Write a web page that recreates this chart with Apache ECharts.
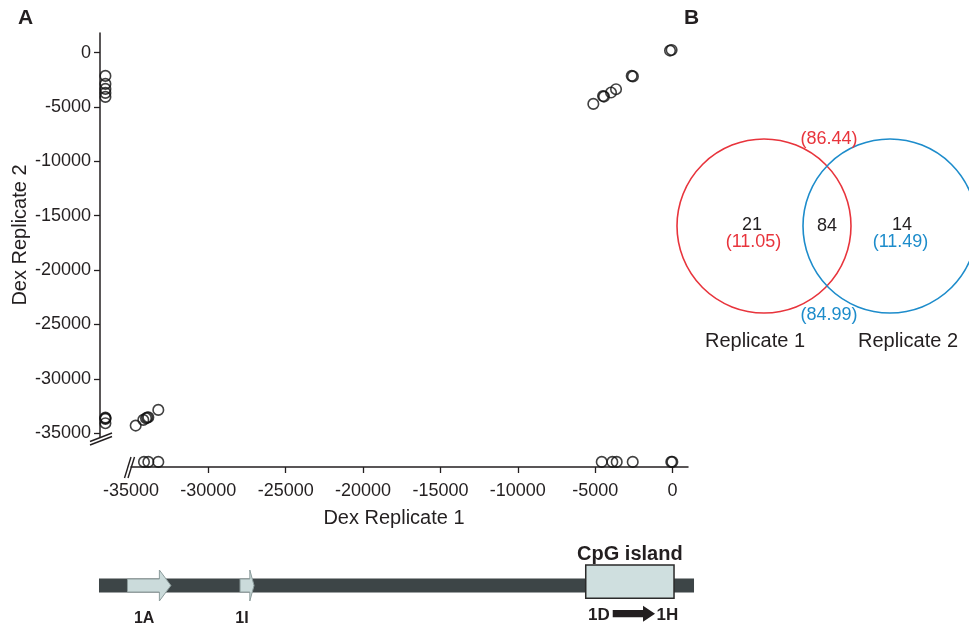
<!DOCTYPE html>
<html><head><meta charset="utf-8">
<script src="https://cdn.jsdelivr.net/npm/echarts@6/dist/echarts.min.js"></script>
<style>html,body{margin:0;padding:0;background:#fff}#c{width:969px;height:626px}</style>
</head><body><div id="c"></div>
<script>
// ---------- Panel A: scatter (Dex Replicate 1 vs Dex Replicate 2) ----------
// Sites detected in both replicates
const bothRep1 = [-162, -60, -2637, -2560, -3651, -3974, -4427, -4490, -5118,
                  -34693, -34202, -34027, -33876, -33950, -33232];
const bothRep2 = [184, 240, -2142, -2190, -3365, -3677, -4045, -4000, -4716,
                  -34292, -33769, -33612, -33521, -33560, -32850];
// Sites not detected in Replicate 1 (drawn in the column left of the x-axis break)
const rep1NotDetected = -36650;
const onlyRep2Values = [-2142, -2878, -3337, -3705, -4073, -33557, -33677, -34072, -33620];
// Sites not detected in Replicate 2 (drawn in the row below the y-axis break)
const rep2NotDetected = -37630;
const onlyRep1Values = [-34157, -33876, -33232, -4575, -3890, -3606, -2572, -80, -13];
// Tick labels
const xTicks = [-35000, -30000, -25000, -20000, -15000, -10000, -5000, 0];
const yTicks = [0, -5000, -10000, -15000, -20000, -25000, -30000, -35000];

// ---------- Panel B: Venn ----------
const vennSets = ['Replicate 1', 'Replicate 2'];
const vennOnlyCounts = [21, 14];
const vennOnlyPct = ['11.05', '11.49'];
const vennSharedCount = 84;
const vennSharedPct = ['86.44', '84.99'];
const vennColors = ['#e8343c', '#1d8ccb'];

// ---------- Gene diagram (same genomic coordinate as x axis) ----------
const geneSpan = [-37065, 1389];
const exonNames = ['1A', '1I'];
const exonStarts = [-35224, -27950];
const exonEnds = [-32419, -27045];
const cpgSpan = [-5609, 97];
const cpgLabel = 'CpG island';
const altExonNames = ['1D', '1H'];
const altExonSpan = [-3865, -1131];

const FONT = 'Liberation Sans, Arial, Helvetica, sans-serif';
const NARROW = 'Liberation Sans Narrow, Liberation Sans, Arial, sans-serif';
const INK = '#231f20';

const bothData = bothRep1.map((x, i) => [x, bothRep2[i]]);
const leftData = onlyRep2Values.map(y => [rep1NotDetected, y]);
const bottomData = onlyRep1Values.map(x => [x, rep2NotDetected]);

const geneFeatures = [{kind: 'gene', start: geneSpan[0], end: geneSpan[1]}];
exonNames.forEach((n, i) => geneFeatures.push({kind: 'exon', name: n, start: exonStarts[i], end: exonEnds[i]}));
geneFeatures.push({kind: 'cpg', name: cpgLabel, start: cpgSpan[0], end: cpgSpan[1]});
geneFeatures.push({kind: 'alt', names: altExonNames, start: altExonSpan[0], end: altExonSpan[1]});

function renderGene(params, api) {
  const f = geneFeatures[params.dataIndex];
  const mid = api.coord([f.start, 0.5])[1];
  const x0 = api.coord([f.start, 0.5])[0];
  const x1 = api.coord([f.end, 0.5])[0];
  if (f.kind === 'gene') {
    return {type: 'rect', shape: {x: x0, y: mid - 7, width: x1 - x0, height: 14}, style: {fill: '#3d4547'}};
  }
  if (f.kind === 'exon') {
    const head = Math.min(11.5, (x1 - x0) * 0.3);
    const hx = x1 - head;
    return {type: 'group', children: [
      {type: 'polygon', shape: {points: [[x0, mid - 6.5], [hx, mid - 6.5], [hx, mid - 15.5], [x1, mid], [hx, mid + 15.5], [hx, mid + 6.5], [x0, mid + 6.5]]},
       style: {fill: '#cbdbdb', stroke: '#8d9d9d', lineWidth: 1}},
      {type: 'text', x: (x0 + x1) / 2 - 5, y: mid + 33, style: {text: f.name, fill: INK, font: 'bold 16px ' + NARROW, align: 'center', verticalAlign: 'middle'}}
    ]};
  }
  if (f.kind === 'cpg') {
    return {type: 'group', children: [
      {type: 'rect', shape: {x: x0, y: mid - 20.5, width: x1 - x0, height: 33.3}, style: {fill: '#cfdfdf', stroke: '#2a2a2a', lineWidth: 1.5}},
      {type: 'text', x: (x0 + x1) / 2, y: mid - 31, style: {text: f.name, fill: INK, font: 'bold 20px ' + FONT, align: 'center', verticalAlign: 'middle'}}
    ]};
  }
  if (f.kind === 'alt') {
    const y = mid + 28.2;
    const hx = x1 - 12;
    return {type: 'group', children: [
      {type: 'polygon', shape: {points: [[x0, y - 3.6], [hx, y - 3.6], [hx, y - 8], [x1, y], [hx, y + 8], [hx, y + 3.6], [x0, y + 3.6]]},
       style: {fill: '#231f20'}},
      {type: 'text', x: x0 - 3, y: mid + 30, style: {text: f.names[0], fill: INK, font: 'bold 17px ' + NARROW, align: 'right', verticalAlign: 'middle'}},
      {type: 'text', x: x1 + 1.5, y: mid + 30, style: {text: f.names[1], fill: INK, font: 'bold 17px ' + NARROW, align: 'left', verticalAlign: 'middle'}}
    ]};
  }
  return null;
}

const vennItems = [{kind: 'set', idx: 0}, {kind: 'set', idx: 1}, {kind: 'shared'}];
const vennNameShift = [-9, 18];
function renderVenn(params, api) {
  const it = vennItems[params.dataIndex];
  const c0 = api.coord([0, 0.5]);
  const c1 = api.coord([1, 0.5]);
  const r = api.size([0, 1])[1] / 2;
  if (it.kind === 'set') {
    const c = it.idx === 0 ? c0 : c1;
    const sign = it.idx === 0 ? -1 : 1;
    const tx = c[0] + sign * 12;
    return {type: 'group', children: [
      {type: 'circle', shape: {cx: c[0], cy: c[1], r: r}, style: {fill: 'none', stroke: vennColors[it.idx], lineWidth: 1.6}},
      {type: 'text', x: tx, y: c[1] - 1, style: {text: String(vennOnlyCounts[it.idx]), fill: INK, font: '18px ' + FONT, align: 'center', verticalAlign: 'middle'}},
      {type: 'text', x: tx - sign * 1.5, y: c[1] + 16, style: {text: '(' + vennOnlyPct[it.idx] + ')', fill: vennColors[it.idx], font: '18px ' + FONT, align: 'center', verticalAlign: 'middle'}},
      {type: 'text', x: c[0] + vennNameShift[it.idx], y: c[1] + r + 28, style: {text: vennSets[it.idx], fill: INK, font: '20px ' + FONT, align: 'center', verticalAlign: 'middle'}}
    ]};
  }
  const mx = (c0[0] + c1[0]) / 2;
  return {type: 'group', children: [
    {type: 'text', x: mx, y: c0[1] + 0.5, style: {text: String(vennSharedCount), fill: INK, font: '18px ' + FONT, align: 'center', verticalAlign: 'middle'}},
    {type: 'text', x: mx + 2, y: c0[1] - r + 0.5, style: {text: '(' + vennSharedPct[0] + ')', fill: vennColors[0], font: '18px ' + FONT, align: 'center', verticalAlign: 'middle'}},
    {type: 'text', x: mx + 2, y: c0[1] + r + 2, style: {text: '(' + vennSharedPct[1] + ')', fill: vennColors[1], font: '18px ' + FONT, align: 'center', verticalAlign: 'middle'}}
  ]};
}

const hiddenAxis = (gi, extra) => Object.assign({gridIndex: gi, type: 'value', axisLine: {show: false}, axisTick: {show: false}, axisLabel: {show: false}, splitLine: {show: false}}, extra || {});
const fmt = v => String(v);

const chart = echarts.init(document.getElementById('c'), null, {renderer: 'canvas'});
chart.setOption({
  animation: false,
  backgroundColor: '#ffffff',
  textStyle: {fontFamily: FONT},
  title: [
    {text: 'A', left: 18, top: 8, padding: 0, textStyle: {fontFamily: FONT, fontSize: 21, fontWeight: 'bold', color: INK}},
    {text: 'B', left: 684, top: 8, padding: 0, textStyle: {fontFamily: FONT, fontSize: 21, fontWeight: 'bold', color: INK}}
  ],
  grid: [
    {left: 100, top: 33, width: 588, height: 434, outerBoundsMode: 'none'},   // 0 points
    {left: 100, top: 33, width: 1, height: 404, outerBoundsMode: 'none'},     // 1 y axis display
    {left: 131, top: 33, width: 557, height: 434, outerBoundsMode: 'none'},   // 2 x axis display
    {left: 100, top: 570, width: 588, height: 31, outerBoundsMode: 'none'},   // 3 gene diagram
    {left: 701, top: 139, width: 252, height: 174, outerBoundsMode: 'none'}   // 4 venn
  ],
  xAxis: [
    hiddenAxis(0, {min: -37000, max: 1000, name: 'Dex Replicate 1', nameLocation: 'middle', nameGap: 41,
      nameTextStyle: {fontFamily: FONT, fontSize: 20, color: INK}}),
    hiddenAxis(1, {min: 0, max: 1}),
    {gridIndex: 2, type: 'value', min: -35000, max: 1000, interval: 5000,
      axisLine: {show: true, onZero: false, lineStyle: {color: INK, width: 1.5}},
      axisTick: {show: true, length: 6, lineStyle: {color: INK, width: 1.3}, customValues: xTicks.slice(1)},
      axisLabel: {show: true, fontFamily: FONT, fontSize: 18, color: INK, margin: 15, formatter: fmt, customValues: xTicks},
      splitLine: {show: false}},
    hiddenAxis(3, {min: -37000, max: 1000}),
    {gridIndex: 4, type: 'category', data: vennSets, boundaryGap: true, show: false}
  ],
  yAxis: [
    hiddenAxis(0, {min: -38100, max: 1800}),
    {gridIndex: 1, type: 'value', min: -35340, max: 1800,
      axisLine: {show: true, onZero: false, lineStyle: {color: INK, width: 1.5}},
      axisTick: {show: true, length: 6, lineStyle: {color: INK, width: 1.3}, customValues: yTicks},
      axisLabel: {show: true, fontFamily: FONT, fontSize: 18, color: INK, margin: 9, formatter: fmt, customValues: yTicks},
      splitLine: {show: false},
      name: 'Dex Replicate 2', nameLocation: 'middle', nameGap: 70,
      nameTextStyle: {fontFamily: FONT, fontSize: 20, color: INK}},
    hiddenAxis(2, {min: 0, max: 1}),
    hiddenAxis(3, {min: 0, max: 1}),
    hiddenAxis(4, {min: 0, max: 1})
  ],
  series: [
    {type: 'scatter', xAxisIndex: 0, yAxisIndex: 0, data: bothData.concat(leftData, bottomData),
      symbol: 'circle', symbolSize: 10.5, silent: true,
      itemStyle: {color: 'rgba(0,0,0,0)', borderColor: '#111111', borderWidth: 1.6}},
    {type: 'custom', xAxisIndex: 3, yAxisIndex: 3, clip: false, silent: true,
      data: geneFeatures.map(f => [f.start, 0.5]), renderItem: renderGene},
    {type: 'custom', xAxisIndex: 4, yAxisIndex: 4, clip: false, silent: true,
      data: vennItems.map((it, i) => [i === 2 ? 0 : it.idx, 0.5]), renderItem: renderVenn}
  ],
  graphic: [
    // axis break marks
    {type: 'line', shape: {x1: 90, y1: 445, x2: 112, y2: 436.5}, style: {stroke: INK, lineWidth: 1.4}},
    {type: 'line', shape: {x1: 90, y1: 441.5, x2: 112, y2: 433}, style: {stroke: INK, lineWidth: 1.4}},
    {type: 'line', shape: {x1: 124.5, y1: 478, x2: 131, y2: 457}, style: {stroke: INK, lineWidth: 1.4}},
    {type: 'line', shape: {x1: 128, y1: 478, x2: 134.5, y2: 457}, style: {stroke: INK, lineWidth: 1.4}}
  ]
});
</script>
</body></html>
